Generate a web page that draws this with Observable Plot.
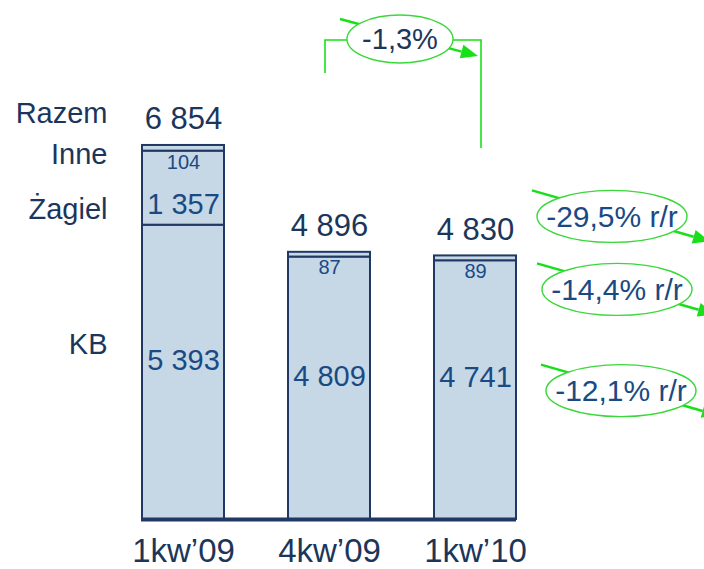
<!DOCTYPE html>
<html>
<head>
<meta charset="utf-8">
<script src="https://cdn.jsdelivr.net/npm/d3@7"></script>
<script src="https://cdn.jsdelivr.net/npm/@observablehq/plot@0.6"></script>
<style>
  html, body { margin: 0; padding: 0; background: #fff; }
  #chart { width: 704px; height: 569px; }
</style>
</head>
<body>
<div id="chart"></div>
<script>
// ---- data ----
const quarters = ["1kw\u201909", "4kw\u201909", "1kw\u201910"];
const series = ["KB", "Żagiel", "Inne"];
const kb = [5393, 4809, 4741];
const zagiel = [1357, null, null];
const inne = [104, 87, 89];
const totals = [6854, 4896, 4830];
const totalName = "Razem";
const qoqLabel = "-1,3%";
const yoyLabels = ["-29,5% r/r", "-14,4% r/r", "-12,1% r/r"];
const yoySeries = ["Razem", "Inne", "KB"];

// ---- styles ----
const FONT = "'Liberation Sans', Arial, Helvetica, sans-serif";
const NAVY = "#1b365a";
const BLUE = "#1a4a84";
const FILL = "#c6d7e6";
const EDGE = "#1f3864";
const GREEN = "#18e018";
const GREEN_E = "#3ad83a";

const fmt = v => d3.format(",")(v).replace(/,/g, " ");

const valuesBySeries = {"KB": kb, "Żagiel": zagiel, "Inne": inne};
const rows = [];
quarters.forEach((q, i) => {
  let acc = 0;
  for (const s of series) {
    const v = valuesBySeries[s][i];
    if (v == null) continue;
    rows.push({quarter: q, series: s, value: v, y1: acc, y2: acc + v, mid: acc + v / 2});
    acc += v;
  }
});
const first = rows.filter(r => r.quarter === quarters[0]);

function innerLabels(s, yKey, dy, fontSize) {
  return Plot.text(rows.filter(r => r.series === s), {
    x: "quarter", y: yKey, text: d => fmt(d.value), dy, fontSize, fill: BLUE
  });
}
function leftLabel(s, yKey, dy) {
  return Plot.text(first.filter(r => r.series === s), {
    y: yKey, text: d => d.series, frameAnchor: "left", textAnchor: "end",
    dx: -34, dy, fontSize: 29, fill: NAVY
  });
}

function annotate(index, scales) {
  const x = scales.x, y = scales.y;
  const bw = x.bandwidth ? x.bandwidth() : 82;
  const c2 = x(quarters[1]) + bw / 2;
  const c3 = x(quarters[2]) + bw / 2;
  const right3 = x(quarters[2]) + bw;
  const g = d3.create("svg:g").attr("font-family", FONT);

  function arrow(x0, y0, x1, y1) {
    const L = 17, w = 7;
    const dx = x1 - x0, dy = y1 - y0, len = Math.hypot(dx, dy);
    const ux = dx / len, uy = dy / len;
    const bx = x1 - ux * L, by = y1 - uy * L;
    g.append("line").attr("x1", x0).attr("y1", y0).attr("x2", bx).attr("y2", by)
      .attr("stroke", GREEN).attr("stroke-width", 2.5);
    g.append("path")
      .attr("d", `M${x1},${y1}L${bx - uy * w},${by + ux * w}L${bx + uy * w},${by - ux * w}Z`)
      .attr("fill", GREEN);
  }
  function bubble(cx, cy, rx, ry, label, color, size) {
    g.append("ellipse").attr("cx", cx).attr("cy", cy).attr("rx", rx).attr("ry", ry)
      .attr("fill", "white").attr("stroke", GREEN_E).attr("stroke-width", 1.4);
    g.append("text").attr("x", cx).attr("y", cy).attr("dy", "0.36em")
      .attr("text-anchor", "middle").attr("font-size", size).attr("fill", color)
      .text(label);
  }

  // quarter-on-quarter bracket
  const bx0 = c2 - 4, bx1 = c3 + 6, byTop = 40;
  g.append("path").attr("d", `M${bx0},73V${byTop}H${bx1}V148`)
    .attr("fill", "none").attr("stroke", GREEN).attr("stroke-width", 1.6);
  const tcx = (c2 + c3) / 2 - 2, tcy = 39;
  arrow(tcx - 60, tcy - 20, tcx + 78, tcy + 17);
  bubble(tcx, tcy, 53, 24, qoqLabel, NAVY, 29);

  // year-on-year bubbles
  const anchors = {
    "Razem": [96, y(totals[2]) - 39],
    "Inne": [101, y(totals[2]) + 34],
    "KB": [105, y(kb[2] / 2) + 1]
  };
  yoySeries.forEach((s, i) => {
    const [off, cy] = anchors[s];
    const cx = right3 + off;
    arrow(cx - 80, cy - 26, cx + 98, cy + 25);
    bubble(cx, cy, 75, 26, yoyLabels[i], BLUE, 30);
  });
  return g.node();
}

const plot = Plot.plot({
  width: 704,
  height: 569,
  marginLeft: 141,
  marginRight: 188,
  marginTop: 137,
  marginBottom: 50,
  style: {fontFamily: FONT, fontSize: "33px", color: NAVY, background: "white", overflow: "visible"},
  x: {type: "band", domain: quarters, paddingInner: 0.44, paddingOuter: 0,
      tickSize: 0, tickPadding: 19, label: null},
  y: {domain: [0, 7000], axis: null},
  marks: [
    Plot.rectY(rows, {x: "quarter", y1: "y1", y2: "y2", fill: FILL, stroke: EDGE, strokeWidth: 2}),
    Plot.ruleY([0], {stroke: EDGE, strokeWidth: 4}),
    innerLabels("KB", "mid", -12, 29),
    innerLabels("Żagiel", "mid", 17, 29),
    innerLabels("Inne", "y1", 11, 20),
    Plot.text(quarters, {x: d => d, y: (d, i) => totals[i], text: (d, i) => fmt(totals[i]),
      dy: -26, fontSize: 31, fill: NAVY}),
    Plot.text([totalName], {y: () => totals[0], text: d => d, frameAnchor: "left",
      textAnchor: "end", dx: -34, dy: -32, fontSize: 29, fill: NAVY}),
    leftLabel("Inne", "y1", 4),
    leftLabel("Żagiel", "mid", 22),
    leftLabel("KB", "mid", -28),
    annotate
  ]
});
document.getElementById("chart").appendChild(plot);
</script>
</body>
</html>
